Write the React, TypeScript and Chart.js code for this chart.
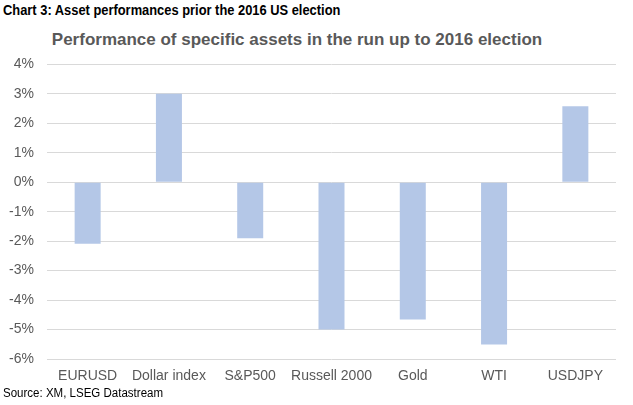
import React, { useEffect, useRef } from "react";
import { Chart, registerables } from "chart.js";

Chart.register(...registerables);

const categories = ["EURUSD", "Dollar index", "S&P500", "Russell 2000", "Gold", "WTI", "USDJPY"];
const performance = [-2.09, 3.0, -1.9, -5.0, -4.66, -5.51, 2.58];
const yMin = -6;
const yMax = 4;

const headerText = "Chart 3: Asset performances prior the 2016 US election";
const chartTitle = "Performance of specific assets in the run up to 2016 election";
const sourceText = "Source: XM, LSEG Datastream";

export default function App() {
  const canvasRef = useRef<HTMLCanvasElement | null>(null);

  useEffect(() => {
    document.body.style.margin = "0";
    const ctx = canvasRef.current;
    if (!ctx) return;
    const chart = new Chart(ctx, {
      type: "bar",
      data: {
        labels: categories,
        datasets: [
          {
            data: performance,
            backgroundColor: "#b4c7e7",
            borderWidth: 0,
            barPercentage: 0.32,
            categoryPercentage: 1,
          },
        ],
      },
      options: {
        animation: false,
        responsive: false,
        maintainAspectRatio: false,
        layout: { padding: { top: 9, right: 17, left: 0, bottom: 0 } },
        plugins: { legend: { display: false }, title: { display: false }, tooltip: { enabled: false } },
        scales: {
          x: {
            grid: { display: false, drawTicks: false },
            border: { display: false },
            ticks: {
              color: "#595959",
              font: { family: "'Liberation Sans', Arial, sans-serif", size: 14 },
              padding: 9,
              maxRotation: 0,
              autoSkip: false,
            },
            afterFit: (scale: any) => {
              scale.height = 31;
            },
          },
          y: {
            min: yMin,
            max: yMax,
            grid: { color: "#d9d9d9", lineWidth: 1, drawTicks: false },
            border: { display: false },
            ticks: {
              stepSize: 1,
              color: "#595959",
              font: { family: "'Liberation Sans', Arial, sans-serif", size: 14 },
              padding: 13,
              callback: (v: any) => `${v}%`,
            },
            afterFit: (scale: any) => {
              scale.width = 47;
            },
          },
        },
      },
    });
    return () => chart.destroy();
  }, []);

  return (
    <div style={{ position: "relative", width: 633, height: 405, background: "#fff", overflow: "hidden" }}>
      <div
        style={{
          position: "absolute",
          left: 3,
          top: 2,
          fontFamily: "'Liberation Sans', Arial, sans-serif",
          fontWeight: "bold",
          fontSize: 14,
          color: "#000",
          whiteSpace: "nowrap",
          transform: "scaleX(0.92)",
          transformOrigin: "left top",
        }}
      >
        {headerText}
      </div>
      <div
        style={{
          position: "absolute",
          left: 22,
          width: 550,
          top: 30,
          textAlign: "center",
          fontFamily: "'Liberation Sans', Arial, sans-serif",
          fontWeight: "bold",
          fontSize: 17,
          color: "#595959",
          whiteSpace: "nowrap",
        }}
      >
        {chartTitle}
      </div>
      <canvas
        ref={canvasRef}
        width={633}
        height={347}
        style={{ position: "absolute", left: 0, top: 43, width: 633, height: 347 }}
      />
      <div
        style={{
          position: "absolute",
          left: 3,
          top: 386,
          fontFamily: "'Liberation Sans', Arial, sans-serif",
          fontSize: 12,
          color: "#000",
          whiteSpace: "nowrap",
          transform: "scaleX(0.96)",
          transformOrigin: "left top",
        }}
      >
        {sourceText}
      </div>
    </div>
  );
}
